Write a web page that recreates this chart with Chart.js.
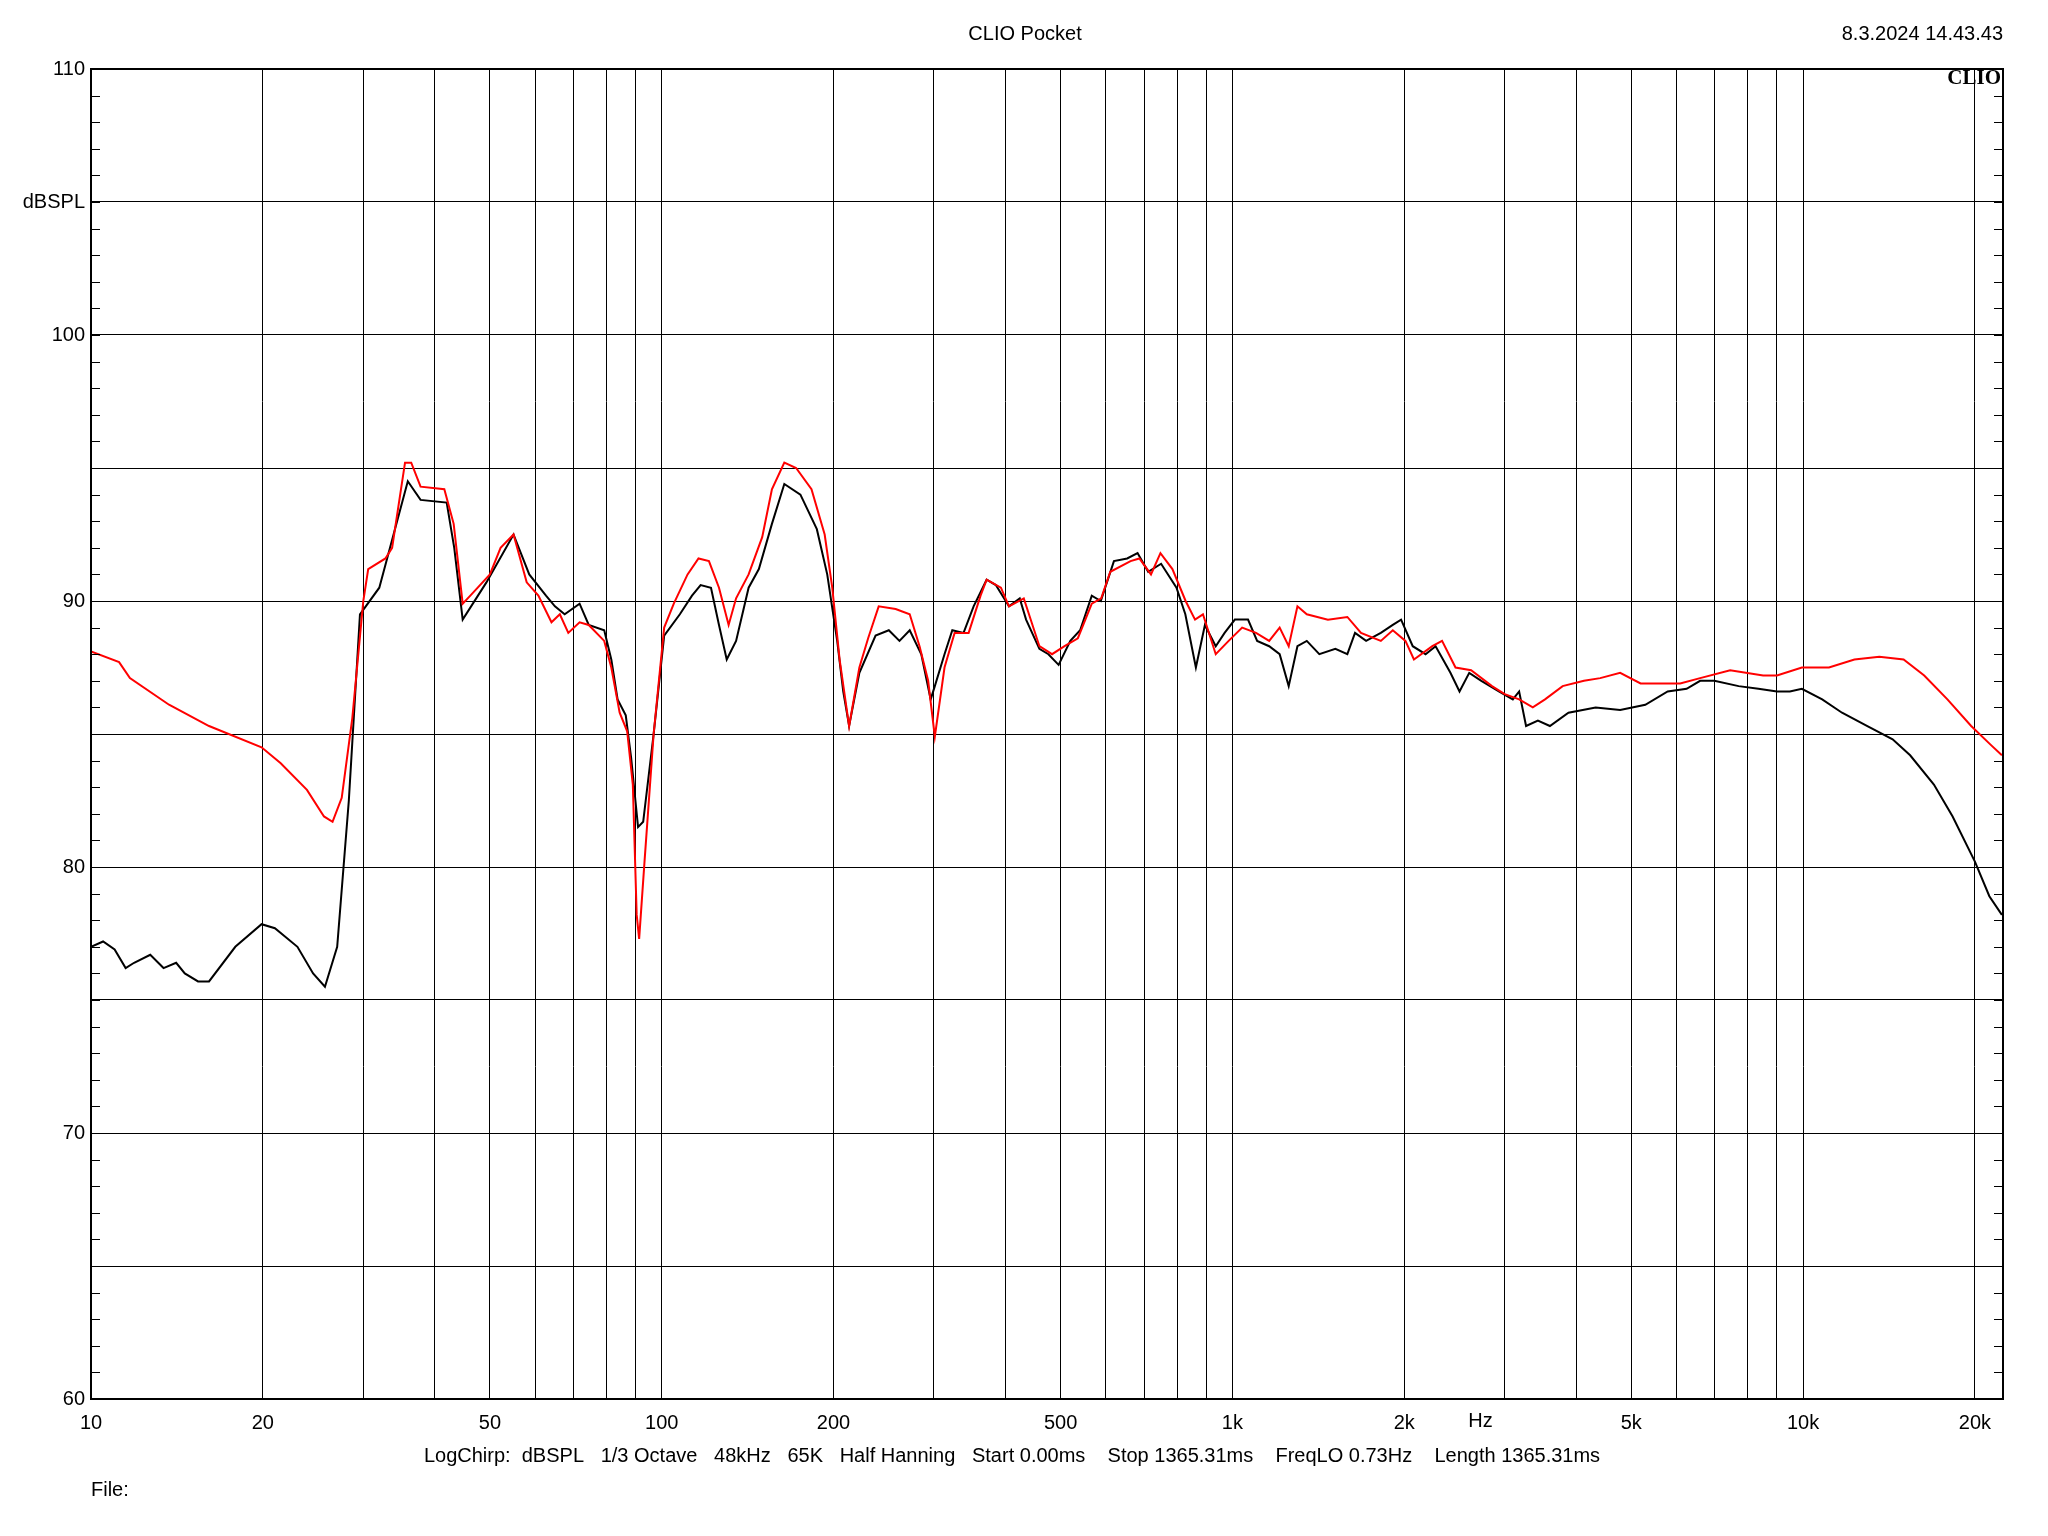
<!DOCTYPE html>
<html>
<head>
<meta charset="utf-8">
<script src="https://cdn.jsdelivr.net/npm/chart.js@4/dist/chart.umd.min.js"></script>
<style>
html, body { margin: 0; padding: 0; background: #fff; }
#wrap { width: 2048px; height: 1536px; }
</style>
</head>
<body>
<div id="wrap"><canvas id="c"></canvas></div>
<script>
// 黑色曲线 (频率 Hz / dBSPL)
const blackFreq = [10, 10.5, 11, 11.5, 11.9, 12.7, 13.4, 14.1, 14.6, 15.4, 16.1, 17.9, 19.9, 21, 23, 24.5, 25.7, 27, 28.3,
  29.6, 32, 35.9, 37.8, 42, 43.3, 44.8, 49.3, 55, 58.6, 62.7, 65, 67.6, 71.8, 74.5, 79.3, 81.6, 83.7, 86.5, 88.4, 90.9,
  92.8, 96.8, 101, 107.6, 113, 117, 122, 126, 130, 135, 142, 148, 156, 164, 175, 187, 195, 203, 208, 213, 222, 237,
  250, 261, 272, 285, 296, 301, 313, 323, 338, 352, 371, 385, 406, 424, 435, 459, 476, 496, 520, 541, 567, 588, 620,
  654, 682, 712, 750, 798, 827, 863, 895, 935, 969, 1010, 1065, 1105, 1160, 1210, 1255, 1300, 1350, 1420, 1515, 1590,
  1640, 1715, 1820, 1910, 1975, 2070, 2180, 2270, 2410, 2500, 2600, 2730, 2930, 3100, 3180, 3270, 3430, 3600, 3880,
  4330, 4780, 5290, 5790, 6250, 6600, 6990, 7710, 8350, 9000, 9480, 9950, 10800, 11700, 12960, 14350, 15400, 16950,
  18280, 20000, 21200, 22300];
const blackDb = [77.0, 77.2, 76.9, 76.2, 76.4, 76.7, 76.2, 76.4, 76.0, 75.7, 75.7, 77.0, 77.85, 77.7, 77.0, 76.0, 75.5, 77.0, 82.5,
  89.5, 90.5, 94.5, 93.8, 93.7, 92.0, 89.3, 90.7, 92.5, 91.0, 90.2, 89.8, 89.5, 89.9, 89.1, 88.9, 87.8, 86.3, 85.7, 84.1, 81.5,
  81.7, 85.0, 88.7, 89.5, 90.2, 90.6, 90.5, 89.1, 87.8, 88.5, 90.5, 91.2, 92.9, 94.4, 94.0, 92.7, 91.0, 88.5, 86.6, 85.3, 87.3, 88.7,
  88.9, 88.5, 88.9, 88.0, 86.3, 86.8, 88.0, 88.9, 88.8, 89.8, 90.8, 90.6, 89.8, 90.1, 89.3, 88.2, 88.0, 87.6, 88.5, 88.9, 90.2, 90.0, 91.5,
  91.6, 91.8, 91.1, 91.4, 90.5, 89.5, 87.5, 89.1, 88.3, 88.8, 89.3, 89.3, 88.5, 88.3, 88.0, 86.8, 88.3, 88.5, 88.0, 88.2, 88.0,
  88.8, 88.5, 88.8, 89.1, 89.3, 88.3, 88.0, 88.3, 87.3, 86.6, 87.3, 87.0, 86.6, 86.3, 86.6, 85.3, 85.5, 85.3, 85.8,
  86.0, 85.9, 86.1, 86.6, 86.7, 87.0, 87.0, 86.8, 86.7, 86.6, 86.6, 86.7, 86.3, 85.8, 85.3, 84.8, 84.2, 83.1,
  81.9, 80.2, 78.9, 78.2];

// 红色曲线
const redFreq = [10, 11.2, 11.7, 13.7, 16.1, 19.9, 21.5, 23.9, 25.6, 26.5, 27.5, 28.7, 30, 30.6, 32.8, 33.7, 35.5, 36.4, 37.8,
  41.6, 43.2, 44.8, 46.2, 50, 52.2, 55, 58, 60.8, 64.1, 66.3, 68.6, 71.8, 74.5, 79.3, 81.6, 84.4, 87, 89, 90.4, 91.3, 93.3,
  96.8, 101, 105, 111, 116, 121, 126, 131, 135, 142, 150, 156, 164, 172, 183, 193, 199, 205, 213, 222, 230, 240, 257, 272,
  283, 293, 301, 313, 326, 345, 362, 371, 393, 406, 431, 459, 483, 508, 536, 567, 589, 611, 663, 687, 720, 748, 785, 828,
  860, 888, 935, 985, 1040, 1100, 1160, 1210, 1255, 1300, 1350, 1470, 1590, 1680, 1820, 1910, 2010, 2080, 2240, 2330,
  2460, 2620, 2850, 3000, 3180, 3360, 3530, 3790, 4130, 4410, 4780, 5190, 5660, 6090, 6600, 7450, 8510, 9000, 9950,
  11100, 12300, 13600, 15000, 16300, 17900, 19700, 21300, 22300];
const redDb = [88.1, 87.7, 87.1, 86.1, 85.3, 84.5, 83.9, 82.9, 81.9, 81.7, 82.6, 85.6, 90.0, 91.2, 91.6, 92.0, 95.2, 95.2, 94.3,
  94.2, 92.9, 89.9, 90.2, 91.0, 92.0, 92.5, 90.7, 90.2, 89.2, 89.5, 88.8, 89.2, 89.1, 88.5, 87.5, 85.8, 85.1, 83.1, 78.2, 77.3, 80.2,
  85.0, 89.0, 89.9, 91.0, 91.6, 91.5, 90.5, 89.1, 90.1, 91.0, 92.4, 94.2, 95.2, 95.0, 94.2, 92.5, 90.5, 87.8, 85.3, 87.5, 88.6, 89.8, 89.7, 89.5,
  88.3, 87.0, 84.9, 87.5, 88.8, 88.8, 90.2, 90.8, 90.5, 89.8, 90.1, 88.3, 88.0, 88.3, 88.6, 89.9, 90.1, 91.1, 91.5, 91.6, 91.0, 91.8, 91.2, 90.0,
  89.3, 89.5, 88.0, 88.5, 89.0, 88.8, 88.5, 89.0, 88.3, 89.8, 89.5, 89.3, 89.4, 88.8, 88.5, 88.9, 88.5, 87.8, 88.3, 88.5,
  87.5, 87.4, 86.8, 86.5, 86.3, 86.0, 86.3, 86.8, 87.0, 87.1, 87.3, 86.9, 86.9, 86.9, 87.1, 87.4, 87.2, 87.2, 87.5,
  87.5, 87.8, 87.9, 87.8, 87.2, 86.3, 85.3, 84.6, 84.2];

const gridFreqs = [10, 20, 30, 40, 50, 60, 70, 80, 90, 100, 200, 300, 400, 500, 600, 700, 800, 900,
  1000, 2000, 3000, 4000, 5000, 6000, 7000, 8000, 9000, 10000, 20000];
const freqLabels = { 10: '10', 20: '20', 50: '50', 100: '100', 200: '200', 500: '500', 1000: '1k', 2000: '2k',
  5000: '5k', 10000: '10k', 20000: '20k' };

const FONT = '"Liberation Sans", Arial, sans-serif';

function toPoints(fs, ds) {
    return fs.map((f, i) => ({ x: f, y: ds[i] }));
}

// 额外文字和小刻度
const extras = {
    id: 'extras',
    afterDraw(chart) {
        const ctx = chart.ctx;
        const a = chart.chartArea;
        const y = chart.scales.y;
        const x = chart.scales.x;
        ctx.save();
        ctx.strokeStyle = '#000';
        ctx.lineWidth = 1;
        for (let v = 60; v <= 110; v++) {
            const py = Math.round(y.getPixelForValue(v)) + 0.5;
            ctx.beginPath();
            ctx.moveTo(a.left, py); ctx.lineTo(a.left + 9, py);
            ctx.moveTo(a.right - 9, py); ctx.lineTo(a.right, py);
            ctx.stroke();
        }
        ctx.lineWidth = 2;
        ctx.strokeRect(a.left, a.top, a.right - a.left, a.bottom - a.top);

        ctx.fillStyle = '#000';
        ctx.font = '20px ' + FONT;
        ctx.textBaseline = 'middle';
        ctx.textAlign = 'center';
        ctx.fillText('CLIO Pocket', 1025, 34);
        ctx.fillText('Hz', x.getPixelForValue(2720), 1421);
        ctx.textAlign = 'right';
        ctx.fillText('8.3.2024 14.43.43', 2003, 34);
        ctx.textAlign = 'left';
        ctx.fillText('File:', 91, 1490);
        ctx.textAlign = 'center';
        ctx.fillText('LogChirp:  dBSPL   1/3 Octave   48kHz   65K   Half Hanning   Start 0.00ms    Stop 1365.31ms    FreqLO 0.73Hz    Length 1365.31ms', 1012, 1456);
        ctx.font = 'bold 21px "Liberation Serif", serif';
        ctx.textAlign = 'right';
        ctx.fillText('CLIO', a.right - 2, 79);
        ctx.restore();
    }
};

new Chart(document.getElementById('c'), {
    type: 'line',
    data: {
        datasets: [
            { data: toPoints(redFreq, redDb), borderColor: '#ff0000', borderWidth: 2, pointRadius: 0, tension: 0 },
            { data: toPoints(blackFreq, blackDb), borderColor: '#000000', borderWidth: 2, pointRadius: 0, tension: 0 }
        ]
    },
    options: {
        responsive: true,
        maintainAspectRatio: false,
        animation: false,
        layout: { padding: { top: 69, right: 45, left: 0, bottom: 0 } },
        plugins: { legend: { display: false }, tooltip: { enabled: false } },
        scales: {
            x: {
                type: 'logarithmic',
                min: 10,
                max: 22400,
                afterBuildTicks: s => { s.ticks = gridFreqs.map(v => ({ value: v })); },
                afterFit: s => { s.height = 137; },
                grid: { color: '#000', lineWidth: 1, drawTicks: false },
                border: { display: false },
                ticks: {
                    autoSkip: false, maxRotation: 0, padding: 12, color: '#000',
                    font: { family: FONT, size: 20 },
                    callback: v => freqLabels[v] || ''
                }
            },
            y: {
                min: 60,
                max: 110,
                afterFit: s => { s.width = 91; },
                grid: { color: '#000', lineWidth: 1, drawTicks: false },
                border: { display: false },
                ticks: {
                    stepSize: 5, padding: 6, color: '#000',
                    font: { family: FONT, size: 20 },
                    callback: v => v % 10 === 0 ? v : (v === 105 ? 'dBSPL' : '')
                }
            }
        }
    },
    plugins: [extras]
});
</script>
</body>
</html>
